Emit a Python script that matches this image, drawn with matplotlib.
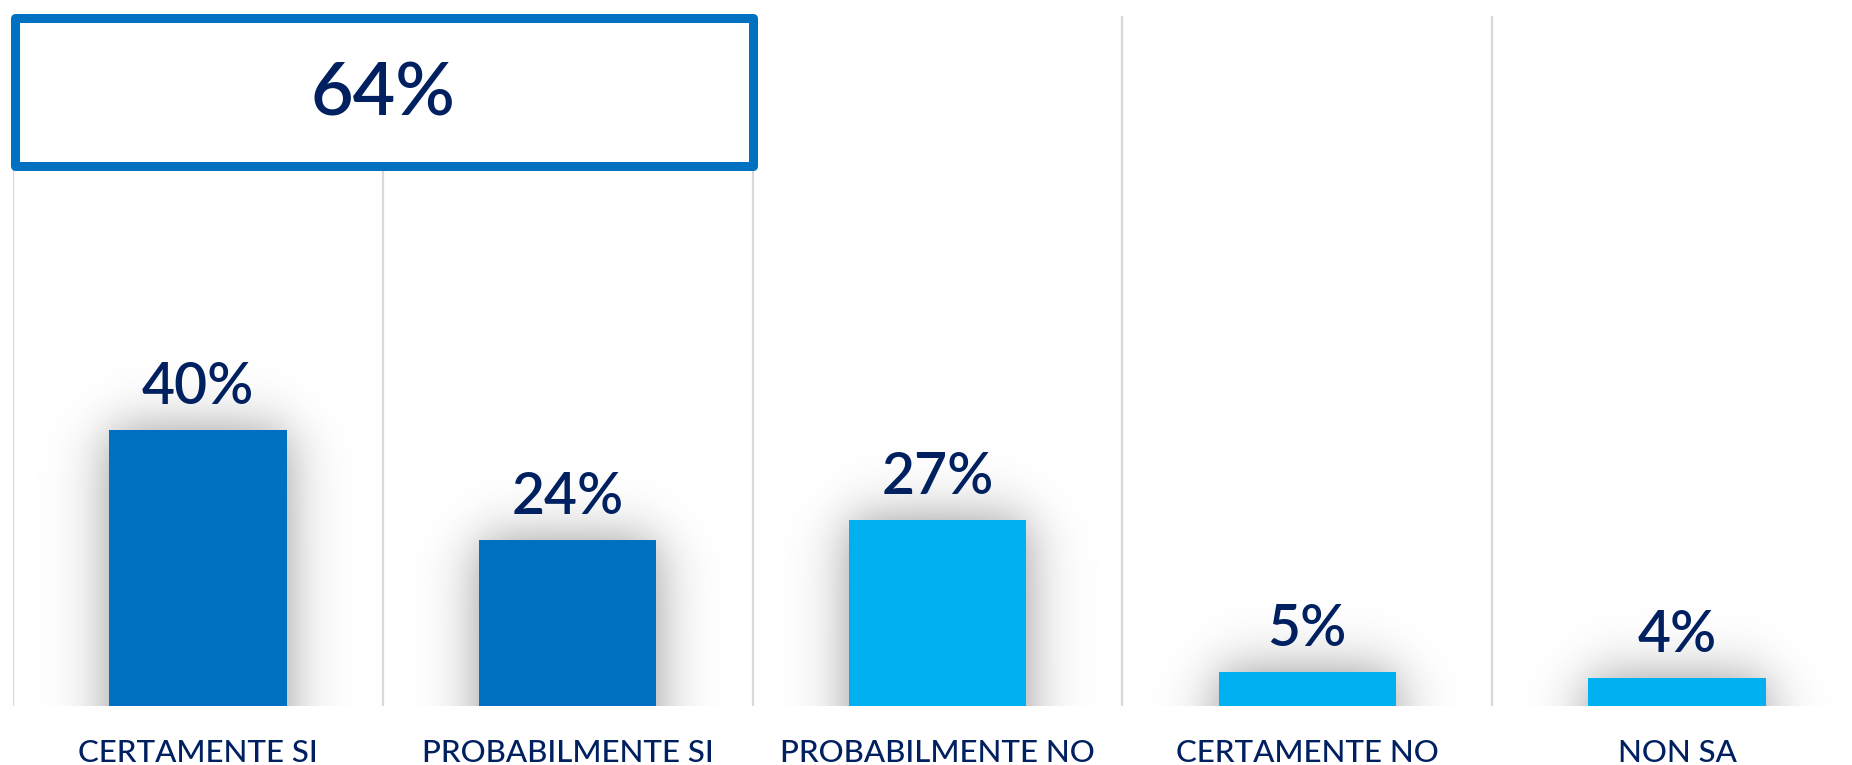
import matplotlib.pyplot as plt
from matplotlib.patches import Rectangle
import numpy as np

# dati
categorie = ["CERTAMENTE SI", "PROBABILMENTE SI", "PROBABILMENTE NO", "CERTAMENTE NO", "NON SA"]
valori = [40, 24, 27, 5, 4]
colori = ["#0070C0", "#0070C0", "#00B0F0", "#00B0F0", "#00B0F0"]

navy = "#002060"
plt.rcParams['font.family'] = ['Lato', 'DejaVu Sans']

fig = plt.figure(figsize=(18.52, 7.65), dpi=100)
ax = fig.add_axes([13 / 1852, 59 / 765, 1849 / 1852, 690 / 765])

# separatori verticali
for b in range(len(categorie)):
    ax.axvline(b - 0.5, color="#D9D9D9", lw=1.6, zorder=0)

larghezza = 0.48
px_x = 1 / 369.5   # unità dati per pixel (orizzontale)
px_y = 100 / 690   # unità dati per pixel (verticale)

# ombra sfumata dietro le barre
s = 32  # pixel di sfumatura
for i, v in enumerate(valori):
    x0, x1 = i - larghezza / 2, i + larghezza / 2
    m = 120
    xs = np.linspace(x0 - m * px_x, x1 + m * px_x, 300)
    ys = np.linspace(0, v + m * px_y, 300)
    fx = 0.5 * (np.tanh((xs - x0) / (s * px_x)) - np.tanh((xs - x1) / (s * px_x)))
    fy = 0.5 * (np.tanh((ys + 200 * px_y) / (s * px_y)) - np.tanh((ys - v) / (s * px_y)))
    img = np.zeros((len(ys), len(xs), 4))
    img[..., 3] = 0.42 * np.outer(fy, fx)
    ax.imshow(img, extent=(xs[0], xs[-1], ys[0], ys[-1]), origin="lower",
              aspect="auto", interpolation="bilinear", zorder=1)

ax.set_xlim(-0.5, 4.5)
ax.set_ylim(0, 100)

ax.bar(range(len(valori)), valori, width=larghezza, color=colori, zorder=2)

for i, v in enumerate(valori):
    ax.text(i, v + 26 * px_y, f"{v}%", ha="center", va="baseline",
            fontsize=41, color=navy, fontweight="semibold", zorder=3)

# riquadro totale "sì"
tot = valori[0] + valori[1]
ax.add_patch(Rectangle((-0.494, 78.2), 1.994, 21.5, facecolor="white", edgecolor="#0070C0",
                       lw=6.5, zorder=4, clip_on=False, joinstyle="round"))
ax.text(0.5, 88.5, f"{tot}%", ha="center", va="center", fontsize=53, color=navy,
        fontweight="semibold", zorder=5)

ax.set_xticks(range(len(categorie)))
ax.set_xticklabels(categorie, fontsize=22.5, color=navy, fontweight="medium")
ax.tick_params(axis="x", length=0, pad=24)
ax.set_yticks([])
for sp in ax.spines.values():
    sp.set_visible(False)

fig.savefig("out.png", dpi=100)
